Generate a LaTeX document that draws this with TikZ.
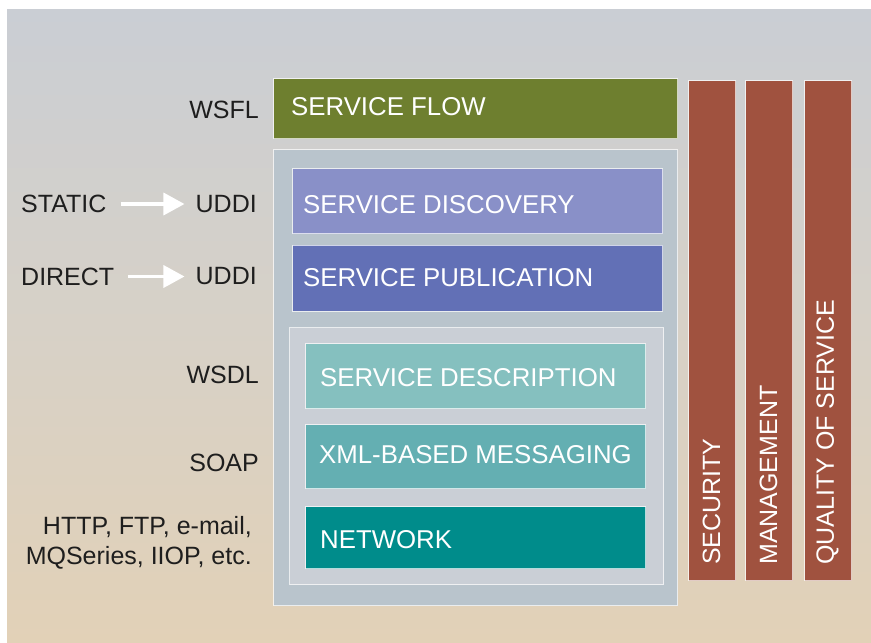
\documentclass[tikz,border=0pt]{standalone}
\usepackage{fontspec}
\setmainfont{Liberation Sans}
\usetikzlibrary{arrows.meta}
\definecolor{bgtop}{HTML}{CACED4}
\definecolor{bgmid}{HTML}{D7D1C7}
\definecolor{bgbot}{HTML}{E2D1B7}
\definecolor{olivec}{HTML}{6E7F2F}
\definecolor{discc}{HTML}{8990C8}
\definecolor{pubc}{HTML}{6270B6}
\definecolor{descc}{HTML}{85C0BF}
\definecolor{xmlc}{HTML}{64AFB2}
\definecolor{netc}{HTML}{008C8B}
\definecolor{redc}{HTML}{A0523F}
\definecolor{outerc}{HTML}{B9C4CC}
\definecolor{innerc}{HTML}{CACFD6}
\definecolor{labelc}{HTML}{1E1E1E}
\begin{document}
\begin{tikzpicture}[x=1pt,y=-1pt,
  box/.style={draw=white, draw opacity=0.7, line width=1.3pt, anchor=north west, inner sep=0pt},
  boxtext/.style={anchor=west, inner sep=0pt, text=white, font=\fontsize{25.8}{30}\selectfont},
  bartext/.style={anchor=west, rotate=90, inner sep=0pt, text=white, font=\fontsize{25}{30}\selectfont},
  side/.style={anchor=east, inner sep=0pt, text=labelc, font=\fontsize{25}{30}\selectfont},
  sidel/.style={anchor=west, inner sep=0pt, text=labelc, font=\fontsize{25}{30}\selectfont},
  arr/.style={draw=white, line width=3.5pt, -{Triangle[length=21pt,width=22pt]}}]
\useasboundingbox (0,0) rectangle (871,643);
\shade[top color=bgtop, bottom color=bgbot, middle color=bgmid] (7,9) rectangle (871,643);
% service flow
\node[box, fill=olivec, minimum width=404pt, minimum height=60pt] (sf) at (273,78) {};
\node[boxtext] (sft) at (291,107) {SERVICE FLOW};
% outer stack
\node[box, fill=outerc, minimum width=404pt, minimum height=456pt] (outer) at (273,149) {};
\node[box, fill=discc, minimum width=370pt, minimum height=65pt] (disc) at (292,168) {};
\node[boxtext] (disct) at (303,204.5) {SERVICE DISCOVERY};
\node[box, fill=pubc, minimum width=370pt, minimum height=66pt] (pub) at (292,244.5) {};
\node[boxtext] (pubt) at (303,277.5) {SERVICE PUBLICATION};
\node[box, fill=innerc, minimum width=374pt, minimum height=257pt] (inner) at (289,327) {};
\node[box, fill=descc, minimum width=340pt, minimum height=65pt] (desc) at (305,343) {};
\node[boxtext] (desct) at (320,377.5) {SERVICE DESCRIPTION};
\node[box, fill=xmlc, minimum width=340pt, minimum height=64pt] (xml) at (305,424) {};
\node[boxtext] (xmlt) at (319,455) {XML-BASED MESSAGING};
\node[box, fill=netc, minimum width=340pt, minimum height=62pt] (net) at (305,506) {};
\node[boxtext] (nett) at (320,539.5) {NETWORK};
% vertical bars
\node[box, fill=redc, minimum width=47pt, minimum height=500pt] (sec) at (688,80) {};
\node[box, fill=redc, minimum width=47pt, minimum height=500pt] (man) at (745,80) {};
\node[box, fill=redc, minimum width=47pt, minimum height=500pt] (qos) at (804,80) {};
\node[bartext] (sect) at (711.5,565) {SECURITY};
\node[bartext] (mant) at (768.5,565) {MANAGEMENT};
\node[bartext] (qost) at (827.5,565) {QUALITY OF SERVICE};
% side labels
\node[side] (wsfl) at (259,109.5) {WSFL};
\node[sidel] (st) at (21,204) {STATIC};
\node[side] (u1) at (257,204) {UDDI};
\node[sidel] (di) at (21,276.5) {DIRECT};
\node[side] (u2) at (257,276.5) {UDDI};
\node[side] (wsdl) at (259,375) {WSDL};
\node[side] (soap) at (259,463) {SOAP};
\node[side, align=right, font=\fontsize{25}{30}\selectfont] (http) at (252,543) {HTTP, FTP, e-mail,\\MQSeries, IIOP, etc.};
% arrows
\draw[arr, shorten <=14pt, shorten >=11pt] (st.east) -- (u1.west);
\draw[arr, shorten <=14pt, shorten >=11pt] (di.east) -- (u2.west);
\end{tikzpicture}
\end{document}
